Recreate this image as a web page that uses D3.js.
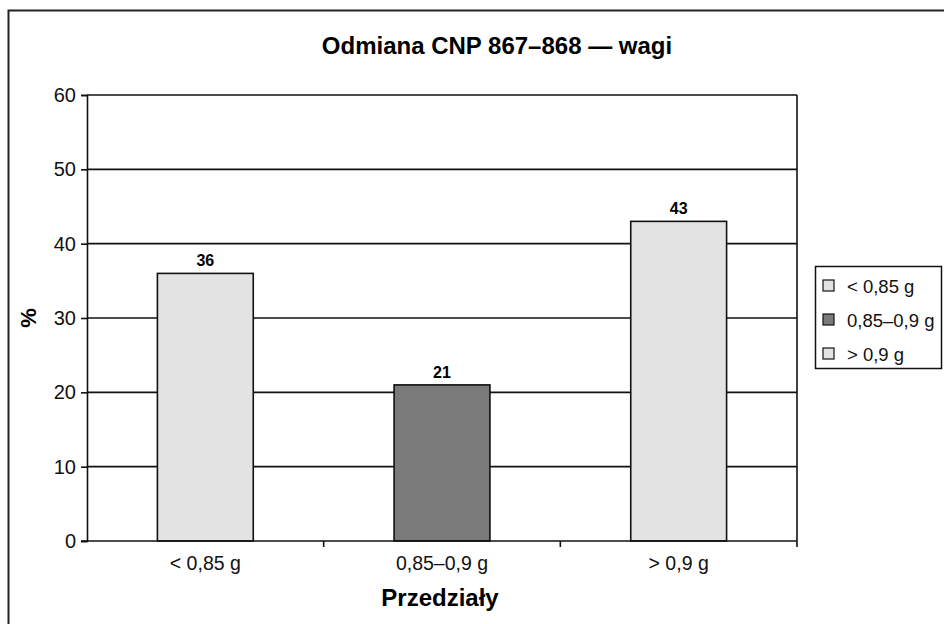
<!DOCTYPE html>
<html><head><meta charset="utf-8">
<script src="https://cdn.jsdelivr.net/npm/d3@7"></script>
<style>body{margin:0;background:#fff}svg{display:block;font-family:"Liberation Sans",Arial,sans-serif}</style>
</head><body><svg id="c" width="944" height="624"></svg>
<script>
const categories = ["< 0,85 g", "0,85–0,9 g", "> 0,9 g"];
const values = [36, 21, 43];
const barColors = ["#e3e3e3", "#7a7a7a", "#e3e3e3"];
const yTicks = [0, 10, 20, 30, 40, 50, 60];
const title = "Odmiana CNP 867–868 — wagi";
const xTitle = "Przedziały";
const yTitle = "%";

const svg = d3.select("#c");
const m = {left: 87, right: 797, top: 95, bottom: 541};

// outer frame (left + top)
svg.append("path").attr("d", "M8.5,624 V10.5 H944").attr("fill", "none").attr("stroke", "#222").attr("stroke-width", 2);

const x = d3.scaleBand().domain(categories).range([m.left, m.right]).paddingInner(0.595).paddingOuter(0.2975);
const y = d3.scaleLinear().domain([0, 60]).range([m.bottom, m.top]);

// gridlines
svg.append("g").selectAll("line").data(yTicks.filter(d => d > 0)).join("line")
  .attr("x1", m.left).attr("x2", m.right).attr("y1", d => y(d)).attr("y2", d => y(d))
  .attr("stroke", "#111").attr("stroke-width", 1.6);
svg.append("line").attr("x1", m.right).attr("x2", m.right).attr("y1", m.top).attr("y2", m.bottom)
  .attr("stroke", "#111").attr("stroke-width", 1.6);

// bars
svg.append("g").selectAll("rect").data(values).join("rect")
  .attr("x", (d, i) => x(categories[i])).attr("width", x.bandwidth())
  .attr("y", d => y(d)).attr("height", d => y(0) - y(d))
  .attr("fill", (d, i) => barColors[i]).attr("stroke", "#111").attr("stroke-width", 1.6);

// data labels
svg.append("g").selectAll("text").data(values).join("text")
  .attr("x", (d, i) => x(categories[i]) + x.bandwidth() / 2).attr("y", d => y(d) - 7)
  .attr("text-anchor", "middle").attr("font-weight", "bold").attr("font-size", 16).text(d => d);

// y axis
const yAxis = svg.append("g").attr("transform", `translate(${m.left},0)`)
  .call(d3.axisLeft(y).tickValues(yTicks).tickSize(6).tickPadding(5));
yAxis.select(".domain").attr("stroke", "#111").attr("stroke-width", 1.6);
yAxis.selectAll(".tick line").attr("stroke", "#111").attr("stroke-width", 1.6);
yAxis.selectAll("text").attr("font-size", 20).attr("fill", "#111").attr("font-family", "Liberation Sans, Arial, sans-serif");

// x axis
const xb = d3.scaleLinear().domain([0, 3]).range([m.left, m.right]);
const xAxis = svg.append("g").attr("transform", `translate(0,${m.bottom})`);
xAxis.append("line").attr("x1", m.left - 6).attr("x2", m.right).attr("stroke", "#111").attr("stroke-width", 1.6);
xAxis.selectAll("line.t").data([1, 2, 3]).join("line").attr("class", "t")
  .attr("x1", d => xb(d)).attr("x2", d => xb(d)).attr("y1", 0).attr("y2", 6)
  .attr("stroke", "#111").attr("stroke-width", 1.6);
xAxis.selectAll("text").data(categories).join("text")
  .attr("x", d => x(d) + x.bandwidth() / 2).attr("y", 29)
  .attr("text-anchor", "middle").attr("font-size", 19.5).attr("fill", "#111").text(d => d);

// titles
svg.append("text").attr("x", 497).attr("y", 54).attr("text-anchor", "middle")
  .attr("font-weight", "bold").attr("font-size", 24).text(title);
svg.append("text").attr("x", 440).attr("y", 606).attr("text-anchor", "middle")
  .attr("font-weight", "bold").attr("font-size", 24).text(xTitle);
svg.append("text").attr("transform", "translate(36,318) rotate(-90)").attr("text-anchor", "middle")
  .attr("font-weight", "bold").attr("font-size", 22).text(yTitle);

// legend
const lg = svg.append("g");
lg.append("rect").attr("x", 815.5).attr("y", 266.5).attr("width", 126).attr("height", 102)
  .attr("fill", "#fff").attr("stroke", "#111").attr("stroke-width", 1.5);
const items = lg.selectAll("g.it").data(categories).join("g").attr("class", "it")
  .attr("transform", (d, i) => `translate(823,${286 + i * 34})`);
items.append("rect").attr("x", 0).attr("y", -6).attr("width", 11).attr("height", 11)
  .attr("fill", (d, i) => barColors[i]).attr("stroke", "#111").attr("stroke-width", 1.2);
items.append("text").attr("x", 24).attr("y", 6.5).attr("font-size", 18.5).attr("fill", "#111").text(d => d);
</script></body></html>
